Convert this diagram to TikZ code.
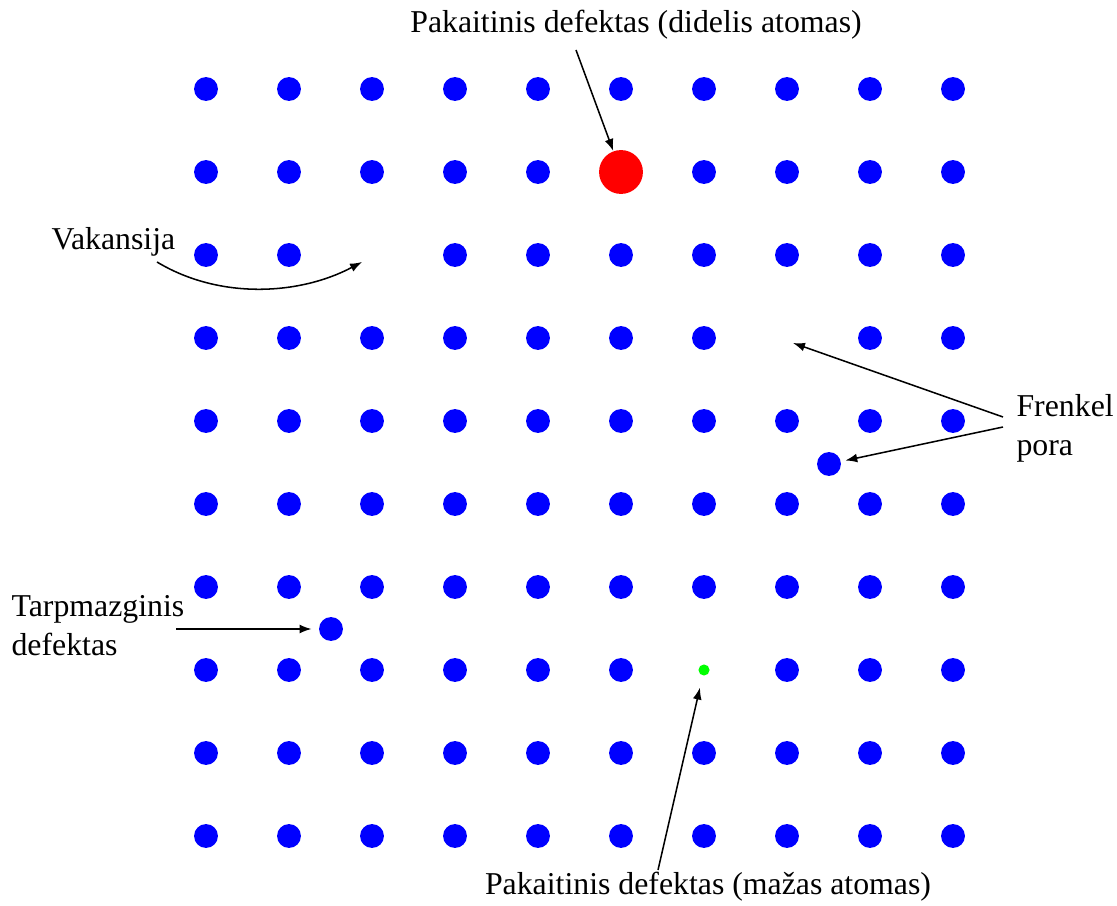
\documentclass[tikz,border=0pt]{standalone}
\usepackage{fontspec}
\setmainfont{Liberation Serif}
\usetikzlibrary{arrows.meta}
\begin{document}
\begin{tikzpicture}[x=0.36pt,y=-0.36pt,
  atom/.style={circle,fill=blue,inner sep=0pt,minimum size=8.6pt},
  bigatom/.style={circle,fill=red,inner sep=0pt,minimum size=15.8pt},
  smallatom/.style={circle,fill=green,inner sep=0pt,minimum size=4pt},
  label/.style={inner sep=0pt,font=\fontsize{11.45}{14}\selectfont},
  pointer/.style={-{Latex[length=4.3pt,width=3.2pt]},line width=0.55pt}]
\useasboundingbox (0,0) rectangle (1117,906);
% regular lattice, with two empty sites and two substituted sites
\foreach \i in {0,...,9}{
  \foreach \j in {0,...,9}{
    \pgfmathtruncatemacro{\skip}{
      (\i==2 && \j==2) || (\i==7 && \j==3) || (\i==5 && \j==1) || (\i==6 && \j==7) ? 1 : 0}
    \ifnum\skip=0
      \node[atom] (a-\i-\j) at ({206+83*\i},{89+83*\j}) {};
    \fi
  }
}
% substitutional atoms
\node[bigatom] (big) at (621,172) {};
\node[smallatom] (small) at (704,670) {};
% interstitial atoms
\node[atom] (frenkelatom) at (829,464) {};
\node[atom] (interstitial) at (331,629) {};
% empty sites
\coordinate (vac) at (362,262);
\coordinate (frenkelvac) at (793,343);

% labels
\node[label] (ltop) at (636,25) {Pakaitinis defektas (didelis atomas)};
\node[label] (lbottom) at (708,887) {Pakaitinis defektas (mažas atomas)};
\node[label,anchor=west] (lvac) at (51,242) {Vakansija};
\node[label,anchor=west,align=left] (lfrenkel) at (1016,428) {Frenkel\\pora};
\node[label,anchor=west,align=left] (linter) at (11,626) {Tarpmazginis\\defektas};

% pointers
\draw[pointer] (576,50) coordinate (ptop) -- (big);
\draw[pointer,shorten >=4.3pt] (658,870) coordinate (pbot) -- (small);
\draw[pointer] (157,262) coordinate (pvac) .. controls (220,300) and (300,295) .. (vac);
\draw[pointer] (1003,417) coordinate (pf1) -- (frenkelvac);
\draw[pointer,shorten >=1.5pt] (1003,427) coordinate (pf2) -- (frenkelatom);
\draw[pointer,shorten >=2.5pt] (176,629) coordinate (pint) -- (interstitial);
\end{tikzpicture}
\end{document}
